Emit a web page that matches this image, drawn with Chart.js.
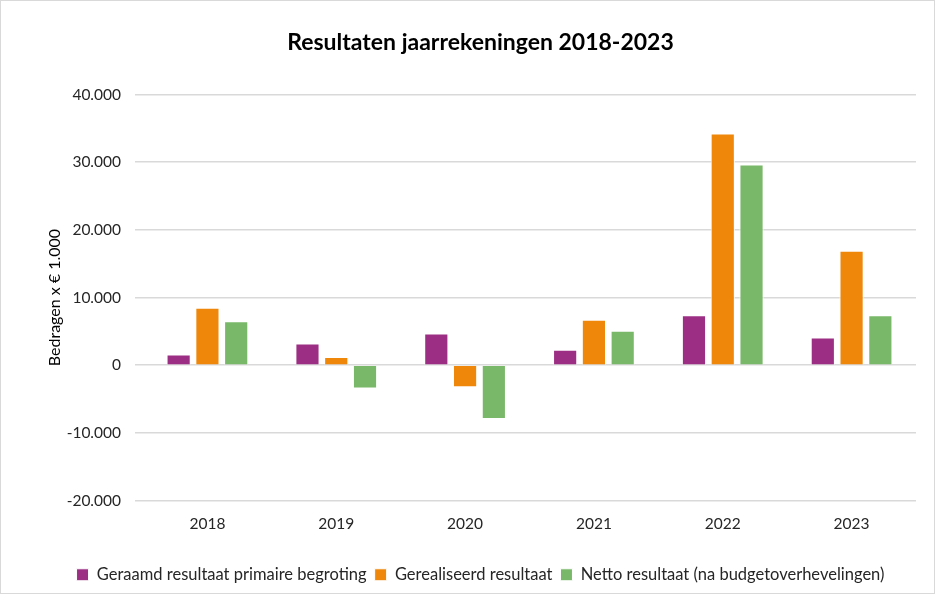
<!DOCTYPE html>
<html lang="nl">
<head>
<meta charset="UTF-8">
<title>Resultaten jaarrekeningen 2018-2023</title>
<script src="https://cdn.jsdelivr.net/npm/chart.js"></script>
<style>
  html, body { margin: 0; padding: 0; background: #fff; }
  .wrap { width: 935px; height: 594px; position: relative; box-sizing: border-box; border: 1px solid #d9d9d9; }
</style>
</head>
<body>
<div class="wrap"><canvas id="chart"></canvas></div>
<script>
const years = ['2018', '2019', '2020', '2021', '2022', '2023'];
const geraamd = [1600, 3200, 4700, 2300, 7400, 4100];
const gerealiseerd = [8500, 1200, -3250, 6700, 34250, 16900];
const netto = [6500, -3450, -7950, 5100, 29650, 7400];
const seriesNames = ['Geraamd resultaat primaire begroting', 'Gerealiseerd resultaat', 'Netto resultaat (na budgetoverhevelingen)'];

const fmt = v => {
  const s = Math.abs(v).toString().replace(/\B(?=(\d{3})+(?!\d))/g, '.');
  return (v < 0 ? '-' : '') + s;
};

const font = "Lato, 'Open Sans', sans-serif";
const ds = (label, data, color) => ({
  label, data, backgroundColor: color, borderColor: '#ffffff', borderWidth: 1,
  barPercentage: 0.84, categoryPercentage: 0.67
});

new Chart(document.getElementById('chart'), {
  type: 'bar',
  data: {
    labels: years,
    datasets: [
      ds(seriesNames[0], geraamd, '#9c2f83'),
      ds(seriesNames[1], gerealiseerd, '#ee870a'),
      ds(seriesNames[2], netto, '#79b869')
    ]
  },
  options: {
    responsive: true,
    maintainAspectRatio: false,
    animation: false,
    layout: { padding: { left: 44, right: 18, top: 28, bottom: 0 } },
    plugins: {
      title: {
        display: true,
        text: 'Resultaten jaarrekeningen 2018-2023',
        color: '#000',
        font: { family: font, size: 23, weight: 'bold' },
        padding: { top: 0, bottom: 38 }
      },
      legend: {
        position: 'bottom',
        labels: { color: '#262626', font: { family: font, size: 16.5 }, boxWidth: 12, boxHeight: 12, padding: 8 },
      },
      tooltip: { enabled: false }
    },
    scales: {
      x: {
        grid: { display: false },
        border: { display: false },
        ticks: { color: '#262626', font: { family: font, size: 15.5 }, padding: 6 },
        afterFit: s => { s.height = 58; }
      },
      y: {
        min: -20000, max: 40000,
        grid: { color: '#d9d9d9', lineWidth: 1.5 },
        border: { display: false },
        ticks: { stepSize: 10000, color: '#262626', font: { family: font, size: 15.5 }, padding: 14, callback: v => fmt(v) },
        title: { display: true, text: 'Bedragen x € 1.000', color: '#000', font: { family: font, size: 16 }, padding: 0 },
        afterFit: s => { s.width = 98; }
      }
    }
  }
});
</script>
</body>
</html>
